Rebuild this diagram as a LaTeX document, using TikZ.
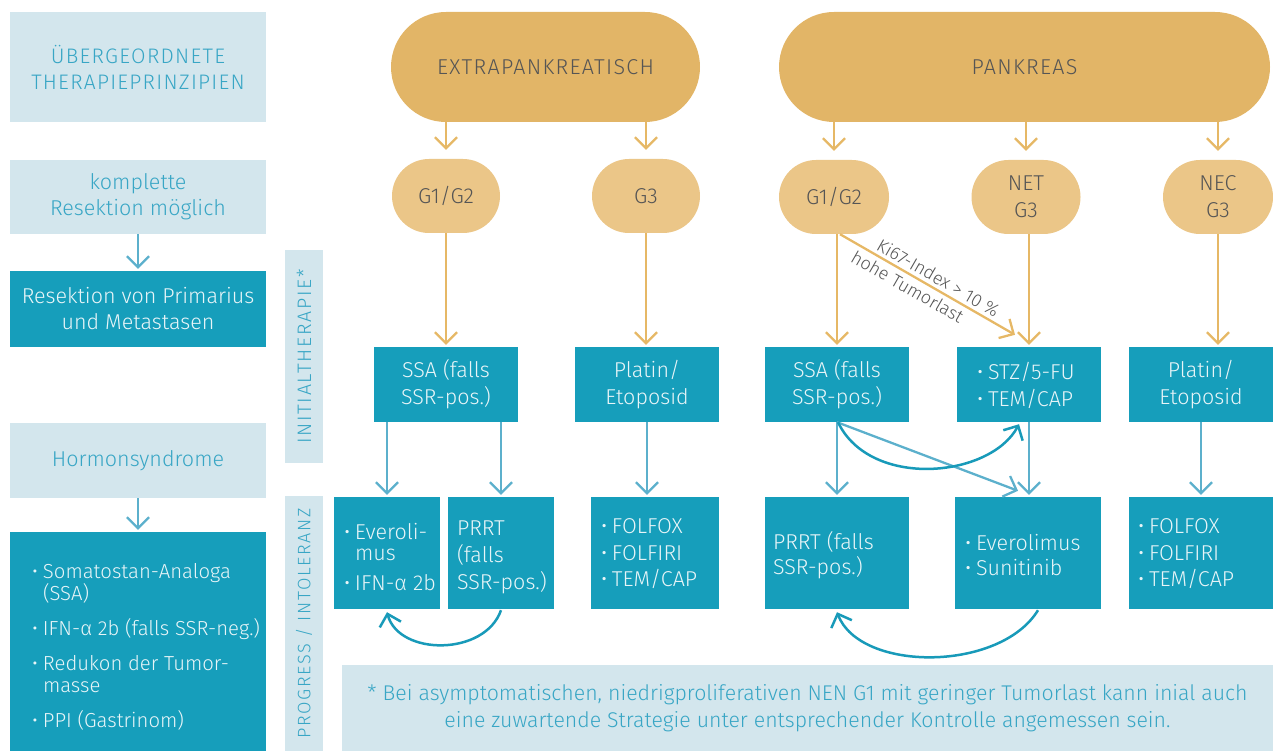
\documentclass[tikz,border=0pt]{standalone}
\usepackage{fontspec}
\setmainfont{Fira Sans Light}
\newfontfamily\caps[LetterSpace=6]{Fira Sans Light}
\newfontfamily\vcaps[LetterSpace=9]{Fira Sans Light}
\usetikzlibrary{arrows.meta,shapes.misc,calc}
\definecolor{lightbg}{RGB}{211,230,237}
\definecolor{lighttxt}{RGB}{56,166,197}
\definecolor{tealbox}{RGB}{22,158,187}
\definecolor{tealtxt}{RGB}{232,245,248}
\definecolor{goldbig}{RGB}{226,181,103}
\definecolor{goldsmall}{RGB}{235,198,136}
\definecolor{pilltxt}{RGB}{85,85,85}
\definecolor{oarrow}{RGB}{230,184,102}
\definecolor{barrow}{RGB}{92,176,204}
\definecolor{carrow}{RGB}{24,154,185}
\newcommand\fs[2]{\fontsize{#1}{#2}\selectfont}
\newcommand\bul{\makebox[11pt][l]{•}}
\begin{document}
\begin{tikzpicture}[x=1pt,y=-1pt,
  lbox/.style={fill=lightbg,text=lighttxt,inner sep=0pt,align=center,font=\fs{21.5}{26}},
  tbox/.style={fill=tealbox,text=tealtxt,inner sep=0pt,align=center,font=\fs{21.5}{27}},
  ttext/.style={text=tealtxt,inner sep=0pt,align=left,font=\fs{21.5}{26}},
  bigpill/.style={rounded rectangle,fill=goldbig,text=pilltxt,inner sep=0pt,minimum height=110pt,font=\caps\fs{21.5}{24}},
  pill/.style={rounded rectangle,fill=goldsmall,text=pilltxt,inner sep=0pt,minimum height=74pt,align=center,font=\fs{21.5}{27}},
  vlab/.style={lbox,rotate=90,minimum height=38pt,font=\vcaps\fs{19.5}{20}},
  oarr/.style={draw=oarrow,line width=2.3pt,-{Straight Barb[length=11pt,width=22pt]},shorten >=2pt},
  barr/.style={draw=barrow,line width=2.3pt,-{Straight Barb[length=11pt,width=22pt]},shorten >=2pt},
  carr/.style={draw=carrow,line width=2.5pt,-{Straight Barb[length=11pt,width=22pt]}},
  klab/.style={text=pilltxt,inner sep=1pt,font=\fs{18}{20},sloped}
]
\useasboundingbox (0,0) rectangle (1273,751);

% ---------- left column ----------
\node[lbox,minimum width=256pt,minimum height=110pt,font=\caps\fs{21}{26}] (b1) at (138,67) {ÜBERGEORDNETE\\THERAPIEPRINZIPIEN};
\node[lbox,minimum width=256pt,minimum height=74pt] (b2) at (138,197) {komplette\\Resektion möglich};
\node[tbox,minimum width=256pt,minimum height=76pt,font=\fs{21.5}{26}] (b3) at (138,309) {Resektion von Primarius\\und Metastasen};
\node[lbox,minimum width=256pt,minimum height=75pt] (b4) at (138,460.5) {Hormonsyndrome};
\node[tbox,minimum width=256pt,minimum height=219pt] (b5) at (138,641.5) {};
\node[ttext,anchor=west,font=\fs{20.3}{22}] (b5t) at ([xshift=22pt,yshift=-5pt]b5.west)
  {\bul Somatostan-Analoga\\\hspace*{11pt}(SSA)\\[13pt]\bul IFN-α 2b (falls SSR-neg.)\\[13pt]\bul Redukon der Tumor-\\\hspace*{11pt}masse\\[13pt]\bul PPI (Gastrinom)};
\draw[barr] (b2.south) -- (b3.north);
\draw[barr] (b4.south) -- (b5.north);

% ---------- vertical labels ----------
\node[vlab,minimum width=213pt] (v1) at (304,356.5) {INITIALTHERAPIE*};
\node[vlab,minimum width=255pt,font=\vcaps\fs{18}{20}] (v2) at (304,623.5) {PROGRESS / INTOLERANZ};

% ---------- top pills ----------
\node[bigpill,minimum width=309pt] (top1) at (545.5,67) {EXTRAPANKREATISCH};
\node[bigpill,minimum width=491pt] (top2) at (1024.5,67) {PANKREAS};

\node[pill,minimum width=108pt] (p1) at (446,196) {G1/G2};
\node[pill,minimum width=108pt] (p2) at (646,196) {G3};
\node[pill,minimum width=110pt] (p3) at (834,197) {G1/G2};
\node[pill,minimum width=109pt] (p4) at (1026,197) {NET\\G3};
\node[pill,minimum width=110pt] (p5) at (1218,197) {NEC\\G3};

\draw[oarr,shorten >=9pt] (top1.south -| p1.north) -- (p1.north);
\draw[oarr,shorten >=9pt] (top1.south -| p2.north) -- (p2.north);
\draw[oarr,shorten >=9pt] (top2.south -| p3.north) -- (p3.north);
\draw[oarr,shorten >=9pt] (top2.south -| p4.north) -- (p4.north);
\draw[oarr,shorten >=9pt] (top2.south -| p5.north) -- (p5.north);

% ---------- first teal row ----------
\node[tbox,minimum width=144pt,minimum height=75pt] (s1) at (446,384.5) {SSA (falls\\SSR-pos.)};
\node[tbox,minimum width=144pt,minimum height=75pt] (s2) at (647,384.5) {Platin/\\Etoposid};
\node[tbox,minimum width=144pt,minimum height=75pt] (s3) at (837,384.5) {SSA (falls\\SSR-pos.)};
\node[tbox,minimum width=144pt,minimum height=75pt] (s4) at (1029,384.5) {};
\node[ttext,anchor=west,font=\fs{21.5}{27}] (s4t) at ([xshift=20pt,yshift=-1pt]s4.west) {\bul STZ/5-FU\\\bul TEM/CAP};
\node[tbox,minimum width=144pt,minimum height=75pt] (s5) at (1201,384.5) {Platin/\\Etoposid};

\draw[oarr] (p1.south) -- (p1.south |- s1.north);
\draw[oarr] (p2.south) -- (p2.south |- s2.north);
\draw[oarr] (p3.south -| s3.north) -- (s3.north);
\draw[oarr] (p4.south -| s4.north) -- (s4.north);
\draw[oarr] (p5.south) -- (p5.south |- s5.north);
\coordinate (kstart) at ([xshift=6pt]p3.south);
\coordinate (kend) at ([xshift=-14pt,yshift=12pt]s4.north);
\draw[oarr,shorten >=0pt] (kstart) -- (kend)
  node[klab,pos=0.53,above=2pt] (k1) {Ki67-Index > 10 \%}
  node[klab,pos=0.42,below=3pt] (k2) {hohe Tumorlast};

% ---------- second teal row ----------
\node[tbox,minimum width=106pt,minimum height=112pt] (r1) at (387,553) {};
\node[ttext,anchor=west,font=\fs{21.5}{21}] (r1t) at ([xshift=10pt,yshift=-4pt]r1.west) {\bul Everoli-\\\hspace*{11pt}mus\\[9pt]\bul IFN-α 2b};
\node[tbox,minimum width=106pt,minimum height=112pt] (r2) at (501,553) {};
\node[ttext,anchor=west,font=\fs{21.5}{27}] (r2t) at ([xshift=9pt,yshift=-4pt]r2.west) {PRRT\\(falls\\SSR-pos.)};
\node[tbox,minimum width=128pt,minimum height=112pt] (r3) at (655,553) {};
\node[ttext,anchor=west,font=\fs{21.5}{26.5}] (r3t) at ([xshift=10pt,yshift=-1pt]r3.west) {\bul FOLFOX\\\bul FOLFIRI\\\bul TEM/CAP};
\node[tbox,minimum width=144pt,minimum height=112pt] (r4) at (837,553) {};
\node[ttext,anchor=west,font=\fs{21.5}{25}] (r4t) at ([xshift=8pt,yshift=-2pt]r4.west) {PRRT (falls\\SSR-pos.)};
\node[tbox,minimum width=146pt,minimum height=112pt] (r5) at (1028,553) {};
\node[ttext,anchor=west,font=\fs{21.5}{25}] (r5t) at ([xshift=10pt,yshift=-2pt]r5.west) {\bul Everolimus\\\bul Sunitinib};
\node[tbox,minimum width=144pt,minimum height=112pt] (r6) at (1201,553) {};
\node[ttext,anchor=west,font=\fs{21.5}{26.5}] (r6t) at ([xshift=9pt,yshift=-1pt]r6.west) {\bul FOLFOX\\\bul FOLFIRI\\\bul TEM/CAP};

\draw[barr] (s1.south -| r1.north) -- (r1.north);
\draw[barr] (s1.south -| r2.north) -- (r2.north);
\draw[barr] (s2.south) -- (s2.south |- r3.north);
\draw[barr] (s3.south) -- (r4.north);
\draw[barr] (s4.south) -- (s4.south |- r5.north);
\draw[barr] (s5.south) -- (r6.north);
\draw[barr,shorten >=0pt] (s3.south) -- ([xshift=-10pt,yshift=6pt]r5.north);

% curved arrows
\draw[carr] ([xshift=1pt]s3.south) .. controls +(32,67) and +(-29,54) .. ([xshift=-10pt,yshift=-2pt]s4.south);
\draw[carr] ([yshift=-1pt]r2.south) .. controls +(-16,46) and +(12,44) .. ([yshift=-3pt]r1.south);
\draw[carr] ([xshift=10pt,yshift=-1pt]r5.south) .. controls +(-38,62) and +(23,60) .. ([yshift=-3pt]r4.south);

% ---------- footnote ----------
\node[lbox,minimum width=931pt,minimum height=86pt,font=\fs{21.3}{27}] (fn) at (807.5,708)
  {* Bei asymptomatischen, niedrigproliferativen NEN G1 mit geringer Tumorlast kann inial auch\\eine zuwartende Strategie unter entsprechender Kontrolle angemessen sein.};
\end{tikzpicture}
\end{document}
